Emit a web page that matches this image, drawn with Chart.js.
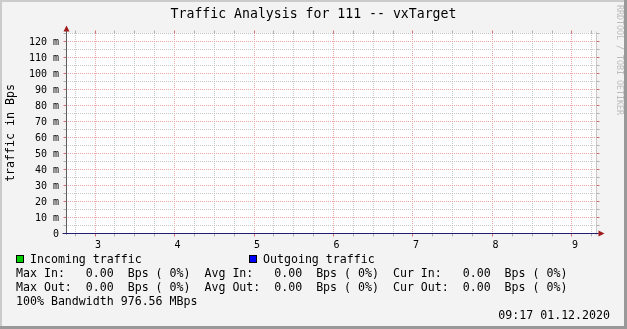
<!DOCTYPE html>
<html><head><meta charset="utf-8">
<script src="https://cdn.jsdelivr.net/npm/chart.js@4.4.0/dist/chart.umd.min.js"></script>
<style>html,body{margin:0;padding:0;background:#f3f3f3;overflow:hidden}canvas{display:block}</style>
</head><body>
<canvas id="c" width="627" height="329"></canvas>
<script>
// ---- data ----
const chartTitle = 'Traffic Analysis for 111 -- vxTarget';
const yAxisTitle = 'traffic in Bps';
const timeValues = [2.6352, 3, 4, 5, 6, 7, 8, 9, 9.3019];
const incomingValues = [0, 0, 0, 0, 0, 0, 0, 0, 0];
const outgoingValues = [0, 0, 0, 0, 0, 0, 0, 0, 0];
const xRange = [2.6352, 9.3019];
const yRange = [-0.3125, 125.3125];
const xTickStep = 0.25;
const yTickStep = 5;
const seriesNames = ['Incoming traffic', 'Outgoing traffic'];
const seriesColors = ['#00cc00', '#0000ff'];
const statLines = [
  'Max In:   0.00  Bps ( 0%)  Avg In:   0.00  Bps ( 0%)  Cur In:   0.00  Bps ( 0%)',
  'Max Out:  0.00  Bps ( 0%)  Avg Out:  0.00  Bps ( 0%)  Cur Out:  0.00  Bps ( 0%)'
];
const bandwidthLine = '100% Bandwidth 976.56 MBps';
const timestamp = '09:17 01.12.2020';
const watermark = 'RRDTOOL / TOBI OETIKER';

const MONO = '"DejaVu Sans Mono", "Liberation Mono", monospace';
const RED_GRID = '#eaa5a5';
const GRAY_GRID = '#c8c8c8';
const isInt = v => Math.abs(v - Math.round(v)) < 1e-6;
const isMajorY = v => Math.abs(v / 10 - Math.round(v / 10)) < 1e-6;
const px = v => Math.round(v - 0.5) + 0.5;

const rrdPlugin = {
  id: 'rrd',
  beforeDraw(chart) {
    const {ctx} = chart;
    const xs = chart.scales.x, ys = chart.scales.y;
    const L = px(xs.left), R = px(xs.right), T = px(ys.getPixelForValue(125)), B = px(ys.getPixelForValue(0));
    ctx.save();
    ctx.fillStyle = '#f3f3f3';
    ctx.fillRect(0, 0, chart.width, chart.height);
    ctx.fillStyle = '#ffffff';
    ctx.fillRect(L - 0.5, T - 0.5, R - L, B - T + 1);
    ctx.restore();
  },
  afterDraw(chart) {
    const {ctx} = chart;
    const xs = chart.scales.x, ys = chart.scales.y;
    const L = px(xs.left), R = px(xs.right), T = px(ys.getPixelForValue(125)), B = px(ys.getPixelForValue(0));
    ctx.save();
    ctx.lineWidth = 1;
    // right edge
    ctx.strokeStyle = '#c8c8c8';
    ctx.beginPath(); ctx.moveTo(R, T - 2); ctx.lineTo(R, B + 2); ctx.stroke();
    // small outside ticks
    ys.ticks.forEach(t => {
      const p = px(ys.getPixelForValue(t.value));
      ctx.strokeStyle = isMajorY(t.value) ? '#d67070' : '#b0b0b0';
      ctx.beginPath(); ctx.moveTo(L - 3, p); ctx.lineTo(L, p); ctx.stroke();
      ctx.beginPath(); ctx.moveTo(R, p); ctx.lineTo(R + 3, p); ctx.stroke();
    });
    xs.ticks.forEach(t => {
      const p = px(xs.getPixelForValue(t.value));
      ctx.strokeStyle = isInt(t.value) ? '#d67070' : '#b0b0b0';
      ctx.beginPath(); ctx.moveTo(p, T - 3); ctx.lineTo(p, T); ctx.stroke();
      ctx.beginPath(); ctx.moveTo(p, B); ctx.lineTo(p, B + 3); ctx.stroke();
    });
    // axes
    ctx.strokeStyle = '#5c5c5c';
    ctx.beginPath(); ctx.moveTo(L, B + 1); ctx.lineTo(L, T - 5); ctx.stroke();
    ctx.strokeStyle = '#20206e';
    ctx.beginPath(); ctx.moveTo(L - 4, B); ctx.lineTo(R + 2, B); ctx.stroke();
    // arrows
    ctx.fillStyle = '#9e1b1b';
    ctx.beginPath(); ctx.moveTo(L - 3, T - 2); ctx.lineTo(L + 3, T - 2); ctx.lineTo(L, T - 8); ctx.closePath(); ctx.fill();
    ctx.beginPath(); ctx.moveTo(R + 2, B - 3); ctx.lineTo(R + 2, B + 3); ctx.lineTo(R + 8, B); ctx.closePath(); ctx.fill();
    // title
    ctx.fillStyle = '#000';
    ctx.textBaseline = 'middle';
    ctx.textAlign = 'center';
    ctx.font = '13.2px ' + MONO;
    ctx.fillText(chartTitle, 313.5, 15);
    // y axis title
    ctx.save();
    ctx.translate(11, 133);
    ctx.rotate(-Math.PI / 2);
    ctx.font = '11.6px ' + MONO;
    ctx.fillText(yAxisTitle, 0, 0);
    ctx.restore();
    // legend
    ctx.textAlign = 'left';
    ctx.font = '11.6px ' + MONO;
    const legendX = [16, 249];
    seriesNames.forEach((n, i) => {
      ctx.fillStyle = seriesColors[i];
      ctx.fillRect(legendX[i], 255, 8, 8);
      ctx.strokeStyle = '#000';
      ctx.strokeRect(legendX[i] + 0.5, 255.5, 7, 7);
      ctx.fillStyle = '#000';
      ctx.fillText(n, legendX[i] + 14, 260);
    });
    statLines.forEach((s, i) => ctx.fillText(s, 16, 274 + i * 14));
    ctx.fillText(bandwidthLine, 16, 302);
    ctx.textAlign = 'right';
    ctx.fillText(timestamp, 610, 316);
    // watermark
    ctx.save();
    ctx.translate(619.5, 60);
    ctx.rotate(Math.PI / 2);
    ctx.textAlign = 'center';
    ctx.fillStyle = '#bcbcbc';
    ctx.font = '8.3px ' + MONO;
    ctx.fillText(watermark, 0, 0);
    ctx.restore();
    // frame shade
    ctx.fillStyle = '#cbcbcb';
    ctx.fillRect(0, 0, chart.width, 2);
    ctx.fillRect(0, 0, 2, chart.height);
    ctx.fillStyle = '#999999';
    ctx.fillRect(0, chart.height - 3, chart.width, 3);
    ctx.fillRect(chart.width - 3, 0, 3, chart.height);
    ctx.restore();
  }
};

new Chart(document.getElementById('c'), {
  type: 'line',
  data: {
    datasets: [
      {label: seriesNames[0], data: timeValues.map((t, i) => ({x: t, y: incomingValues[i]})),
       borderColor: seriesColors[0], backgroundColor: seriesColors[0], fill: 'origin', borderWidth: 0, pointRadius: 0},
      {label: seriesNames[1], data: timeValues.map((t, i) => ({x: t, y: outgoingValues[i]})),
       borderColor: seriesColors[1], borderWidth: 1, pointRadius: 0, fill: false}
    ]
  },
  options: {
    responsive: false, animation: false, devicePixelRatio: 1,
    layout: {padding: {top: 33, right: 31, left: 0, bottom: 0}},
    plugins: {legend: {display: false}, tooltip: {enabled: false}, title: {display: false}},
    scales: {
      x: {
        type: 'linear', min: xRange[0], max: xRange[1],
        afterFit: s => { s.height = 95; },
        grid: {color: c => (c.tick && isInt(c.tick.value)) ? RED_GRID : GRAY_GRID, drawTicks: false, lineWidth: 1},
        border: {display: false, dash: [1, 1]},
        ticks: {stepSize: xTickStep, includeBounds: false, autoSkip: false, maxRotation: 0, padding: 5, labelOffset: 3,
          color: '#000', font: {family: MONO, size: 10},
          callback: v => isInt(v) ? String(Math.round(v)) : ''}
      },
      y: {
        type: 'linear', min: yRange[0], max: yRange[1],
        afterFit: s => { s.width = 66; },
        grid: {color: c => (c.tick && isMajorY(c.tick.value)) ? RED_GRID : GRAY_GRID, drawTicks: false, lineWidth: 1},
        border: {display: false, dash: [1, 1]},
        ticks: {stepSize: yTickStep, includeBounds: false, autoSkip: false, padding: 7, labelOffset: 1, color: '#000', font: {family: MONO, size: 10},
          callback: v => isMajorY(v) ? (Math.abs(v) < 1e-6 ? '0' : Math.round(v) + ' m') : ''}
      }
    }
  },
  plugins: [rrdPlugin]
});
</script>
</body></html>
